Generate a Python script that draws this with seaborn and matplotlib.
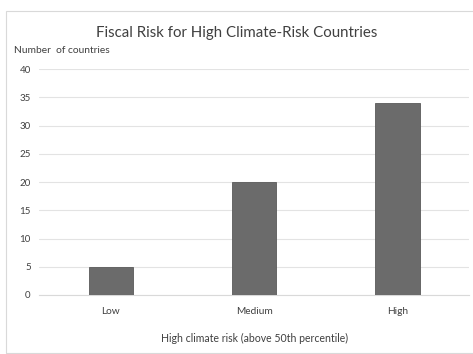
import pandas as pd
import matplotlib
matplotlib.use("Agg")
import matplotlib.pyplot as plt
import seaborn as sns
from matplotlib.patches import Rectangle

# Data
categories = ["Low", "Medium", "High"]
counts = [5, 20, 34]

df = pd.DataFrame({"risk": categories, "count": counts})

sns.set_style("white")
plt.rcParams["font.family"] = ["Lato", "DejaVu Sans"]

fig = plt.figure(figsize=(4.73, 3.54), dpi=100)
ax = fig.add_axes([0.0825, 0.1667, 0.91, 0.638])

sns.barplot(data=df, x="risk", y="count", color="#6b6b6b", width=0.31,
            edgecolor="#5a5a5a", linewidth=0.6, saturation=1, ax=ax, zorder=3)

ax.set_ylim(0, 40)
ax.set_yticks(range(0, 41, 5))
ax.set_xlim(-0.5, 2.5)
ax.yaxis.grid(True, color="#e3e3e3", linewidth=0.8, zorder=0)
ax.set_axisbelow(True)
for s in ["top", "right", "left"]:
    ax.spines[s].set_visible(False)
ax.spines["bottom"].set_color("#d9d9d9")
ax.spines["bottom"].set_linewidth(0.8)
ax.tick_params(axis="both", length=0, labelsize=7, colors="#404040", pad=6)
ax.tick_params(axis="x", labelsize=7.3, pad=9)
ax.set_xlabel("High climate risk (above 50th percentile)", fontsize=7.6,
              color="#404040", labelpad=12)
ax.set_ylabel("")

fig.text(0.5, 0.907, "Fiscal Risk for High Climate-Risk Countries",
         ha="center", va="center", fontsize=10.8, color="#404040")
fig.text(0.03, 0.858, "Number  of countries", ha="left", va="center",
         fontsize=7.4, color="#404040")

# outer chart frame
fig.patches.append(Rectangle((6 / 473, 0.003), 0.99, 1 - 11 / 354 - 0.003,
                             transform=fig.transFigure, fill=False,
                             edgecolor="#d9d9d9", linewidth=0.8))

fig.savefig("out.png", dpi=100, facecolor="white")
